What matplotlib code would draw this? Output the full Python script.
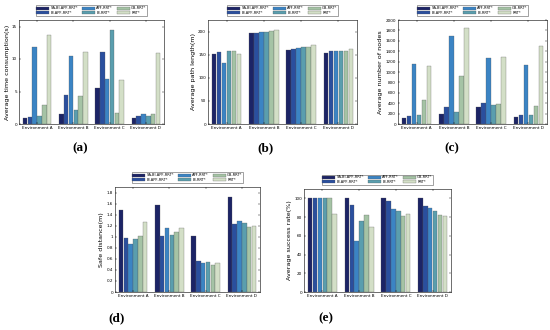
import numpy as np
import matplotlib.pyplot as plt

envs = ['Environment A', 'Environment B', 'Environment C', 'Environment D']
methods = ['SA-BI-APF-RRT*', 'BI-APF-RRT*', 'APF-RRT*', 'BI-RRT*', 'GB-RRT*', 'RRT*']
colors = ['#1c2466', '#2a4f9e', '#3b84c4', '#5a9eae', '#a5c3a5', '#d3dfc7']

# rows = environments, columns = methods
time_s = [[0.9, 1.1, 11.8, 1.2, 2.9, 13.7],
          [1.6, 4.5, 10.5, 2.2, 4.3, 11.1],
          [5.6, 11.1, 6.9, 14.5, 1.7, 6.7],
          [1.0, 1.2, 1.5, 1.2, 1.5, 11.0]]
path_m = [[152, 155, 131, 159, 157, 151],
          [196, 197, 200, 199, 201, 204],
          [161, 163, 165, 166, 166, 170],
          [153, 159, 157, 159, 159, 162]]
nodes = [[110, 150, 1150, 170, 460, 1120],
         [200, 330, 1700, 240, 920, 1840],
         [330, 410, 1270, 360, 380, 1290],
         [140, 180, 1140, 180, 340, 1500]]
safe_m = [[1.48, 0.98, 0.86, 0.96, 1.02, 1.27],
          [1.58, 1.01, 1.16, 1.04, 1.09, 1.16],
          [1.02, 0.56, 0.52, 0.55, 0.49, 0.52],
          [1.72, 1.23, 1.28, 1.24, 1.18, 1.19]]
success = [[100, 100, 100, 100, 100, 83],
           [100, 93, 54, 76, 82, 69],
           [100, 97, 89, 87, 81, 83],
           [100, 92, 90, 87, 82, 81]]

W, H = 550, 330


def px_axes(fig, x0, y0, x1, y1):
    return fig.add_axes([x0 / W, 1 - y1 / H, (x1 - x0) / W, (y1 - y0) / H])


def bar_panel(ax, data, ylim, yticks, ylabel, ticklabels=None):
    data = np.array(data, dtype=float)
    x = np.arange(1, len(envs) + 1)
    bw = 0.8 / len(methods)
    for j, m in enumerate(methods):
        off = (j - (len(methods) - 1) / 2) * bw
        ax.bar(x + off, data[:, j], bw * 0.92, color=colors[j], label=m,
               edgecolor='#555555', linewidth=0.2)
    ax.set_xlim(0.5, 4.5)
    ax.set_ylim(*ylim)
    ax.set_xticks(x)
    ax.set_xticklabels(envs)
    ax.set_yticks(yticks)
    if ticklabels is not None:
        ax.set_yticklabels(ticklabels)
    ax.set_ylabel(ylabel, fontsize=4.6, labelpad=1.5)
    ax.tick_params(direction='in', length=1.5, width=0.3, labelsize=3.0, pad=1.5,
                   top=True, right=True)
    for s in ax.spines.values():
        s.set_linewidth(0.4)
    leg = ax.legend(ncol=3, loc='lower center', bbox_to_anchor=(0.5, 1.04),
                    fontsize=2.6, frameon=True, fancybox=False, handlelength=3.6,
                    handleheight=0.9, columnspacing=1.0, borderpad=0.25,
                    labelspacing=0.15, handletextpad=0.4, borderaxespad=0)
    leg.get_frame().set_edgecolor('#333333')
    leg.get_frame().set_linewidth(0.4)


fig = plt.figure(figsize=(5.5, 3.3), dpi=100)

ax = px_axes(fig, 19, 20, 164, 124)
bar_panel(ax, time_s, (0, 16), [0, 5, 10, 15], 'Average time consumption(s)')
ax = px_axes(fig, 208, 20, 357, 124)
bar_panel(ax, path_m, (0, 225), [0, 50, 100, 150, 200], 'Average path length(m)')
ax = px_axes(fig, 398, 20, 547, 124)
bar_panel(ax, nodes, (0, 2000), np.arange(0, 2001, 200), 'Average number of nodes')
ax = px_axes(fig, 115, 187, 260, 292)
yt = np.round(np.arange(0, 1.81, 0.2), 1)
bar_panel(ax, safe_m, (0, 1.9), yt, 'Safe distance(m)',
          [('%g' % v) for v in yt])
ax = px_axes(fig, 304, 189, 451, 292)
bar_panel(ax, success, (0, 110), [0, 20, 40, 60, 80, 100], 'Average success rate(%)')

for lab, xp, yp in [('(a)', 80, 148), ('(b)', 265, 148), ('(c)', 452, 148),
                    ('(d)', 117, 318), ('(e)', 326, 318)]:
    fig.text(xp / W, 1 - yp / H, lab, fontsize=9.5, family='Liberation Serif',
             fontweight='bold', ha='center', va='center')

fig.savefig('out.png', dpi=100)
